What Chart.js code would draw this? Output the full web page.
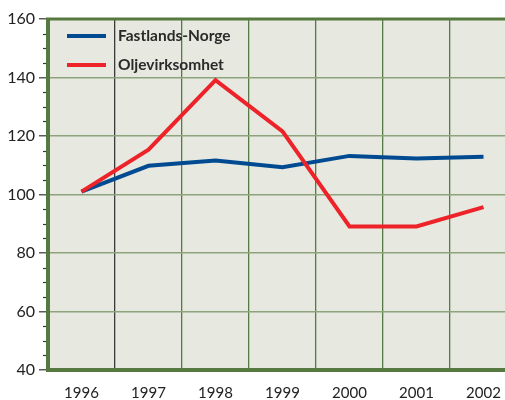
<!DOCTYPE html>
<html>
<head>
<meta charset="utf-8">
<script src="https://cdn.jsdelivr.net/npm/chart.js@4.4.0/dist/chart.umd.min.js"></script>
<style>
    html, body { margin: 0; padding: 0; background: #fff; overflow: hidden; }
    #wrap { position: relative; width: 530px; height: 400px; }
</style>
</head>
<body>
<div id="wrap"><canvas id="chart"></canvas></div>
<script>
const years = ['1996', '1997', '1998', '1999', '2000', '2001', '2002'];
const fastlandsNorge = [101, 109.8, 111.6, 109.3, 113.2, 112.3, 112.9];
const oljevirksomhet = [101, 115.3, 139.1, 121.6, 89.1, 89.1, 95.7];
const seriesNames = ['Fastlands-Norge', 'Oljevirksomhet'];
const yMin = 40, yMax = 160, yMajorStep = 20, yMinorStep = 5;

const FONT = 'Lato, "Open Sans", sans-serif';
const FRAME = '#56793f';

// plot area fill
const plotBackground = {
    id: 'plotBackground',
    beforeDraw(chart) {
        const { ctx, chartArea: a } = chart;
        ctx.save();
        ctx.fillStyle = '#e7e8df';
        ctx.fillRect(a.left, a.top, a.right - a.left, a.bottom - a.top);
        ctx.restore();
    }
};

// short minor ticks on the y axis
const minorTicks = {
    id: 'minorTicks',
    afterDraw(chart) {
        const { ctx, chartArea: a, scales: { y } } = chart;
        ctx.save();
        ctx.strokeStyle = '#333';
        ctx.lineWidth = 1.2;
        for (let v = yMin; v <= yMax; v += yMinorStep) {
            if (v % yMajorStep === 0) continue;
            const py = Math.round(y.getPixelForValue(v)) + 0.5;
            ctx.beginPath();
            ctx.moveTo(a.left - 5, py);
            ctx.lineTo(a.left, py);
            ctx.stroke();
        }
        ctx.restore();
    }
};

// thick green frame on left, top and bottom
const frame = {
    id: 'frame',
    afterDraw(chart) {
        const { ctx, chartArea: a } = chart;
        ctx.save();
        ctx.strokeStyle = FRAME;
        ctx.lineWidth = 4;
        ctx.beginPath();
        ctx.moveTo(a.left, a.top);
        ctx.lineTo(a.left, a.bottom);
        ctx.moveTo(a.left - 2, a.bottom);
        ctx.lineTo(a.right, a.bottom);
        ctx.stroke();
        ctx.lineWidth = 3;
        ctx.beginPath();
        ctx.moveTo(a.left - 2, a.top);
        ctx.lineTo(a.right, a.top);
        ctx.stroke();
        ctx.restore();
    }
};

// legend inside the plot, top left
const insideLegend = {
    id: 'insideLegend',
    afterDraw(chart) {
        const { ctx, chartArea: a } = chart;
        ctx.save();
        ctx.font = 'bold 15.5px ' + FONT;
        ctx.textBaseline = 'middle';
        chart.data.datasets.forEach((ds, i) => {
            const yy = a.top + 17 + i * 29;
            ctx.strokeStyle = ds.borderColor;
            ctx.lineWidth = 4;
            ctx.beginPath();
            ctx.moveTo(a.left + 19, yy);
            ctx.lineTo(a.left + 58, yy);
            ctx.stroke();
            ctx.fillStyle = '#2a2a2a';
            ctx.fillText(ds.label, a.left + 70, yy);
        });
        ctx.restore();
    }
};

new Chart(document.getElementById('chart'), {
    type: 'line',
    data: {
        labels: years,
        datasets: [
            {
                label: seriesNames[0],
                data: fastlandsNorge,
                borderColor: '#004a91',
                borderWidth: 4,
                pointRadius: 0,
                tension: 0,
                order: 2
            },
            {
                label: seriesNames[1],
                data: oljevirksomhet,
                borderColor: '#ee2229',
                borderWidth: 4,
                pointRadius: 0,
                tension: 0,
                order: 1
            }
        ]
    },
    options: {
        responsive: true,
        maintainAspectRatio: false,
        animation: false,
        layout: { padding: { top: 19, right: 13, left: 0, bottom: 0 } },
        scales: {
            x: {
                offset: true,
                afterFit: s => { s.height = 30; },
                border: { display: false },
                grid: {
                    offset: true,
                    drawTicks: false,
                    lineWidth: 1.3,
                    color: ctx => ctx.index === 1 ? '#3a3a3a' : '#567a45'
                },
                ticks: {
                    padding: 14,
                    color: '#222',
                    font: { family: FONT, size: 15 }
                }
            },
            y: {
                min: yMin,
                max: yMax,
                afterFit: s => { s.width = 48; },
                border: { display: false },
                grid: {
                    tickLength: 9,
                    tickColor: '#333',
                    tickWidth: 1.2,
                    lineWidth: 1.6,
                    color: ctx => (ctx.tick && (ctx.tick.value === yMin || ctx.tick.value === yMax)) ? 'rgba(0,0,0,0)' : '#8da37c'
                },
                ticks: {
                    stepSize: yMajorStep,
                    padding: 4,
                    color: '#222',
                    font: { family: FONT, size: 16 }
                }
            }
        },
        plugins: {
            legend: { display: false },
            tooltip: { enabled: false }
        }
    },
    plugins: [plotBackground, minorTicks, frame, insideLegend]
});
</script>
</body>
</html>
